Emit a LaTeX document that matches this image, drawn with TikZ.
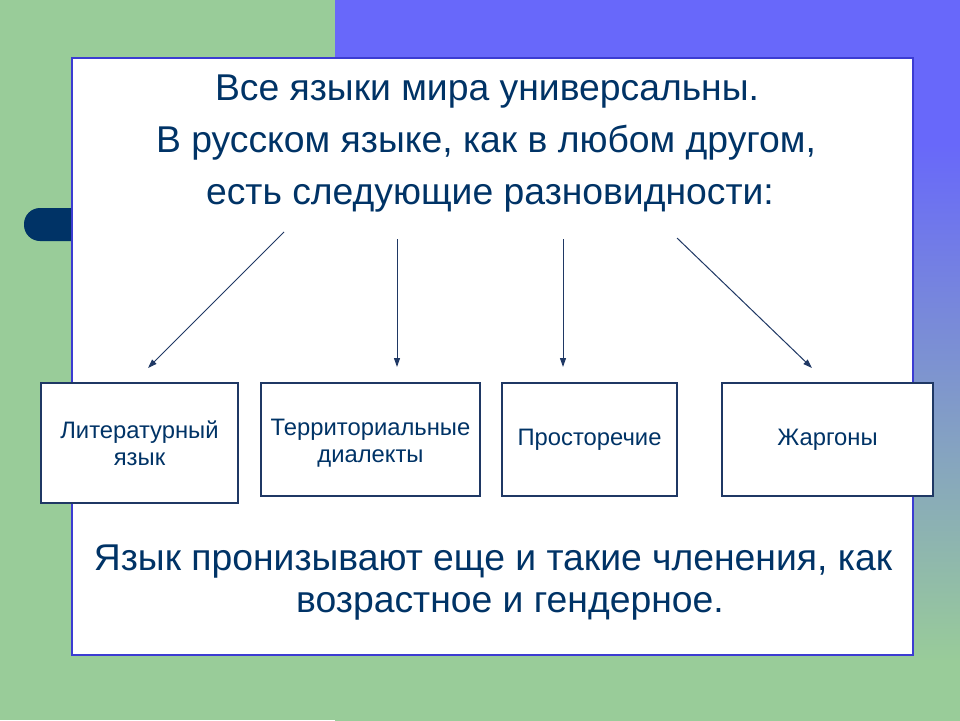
\documentclass[tikz,border=0pt]{standalone}
\usepackage{fontspec}
\setmainfont{Liberation Sans}
\usetikzlibrary{arrows.meta}
\definecolor{bggreen}{RGB}{153,204,153}
\definecolor{bgpurple}{RGB}{104,104,250}
\definecolor{navy}{RGB}{0,51,102}
\definecolor{frameblue}{RGB}{60,60,210}
\definecolor{boxline}{RGB}{31,56,100}
\pgfdeclareverticalshading{bgshade}{100bp}{color(0bp)=(bggreen); color(29bp)=(bggreen); color(65bp)=(bgpurple); color(100bp)=(bgpurple)}
\tikzset{
  bigtext/.style={text=navy, font=\fontsize{37.3}{44}\selectfont, anchor=base, inner sep=0},
  smalltext/.style={text=navy, font=\fontsize{23.8}{27}\selectfont, align=center, inner sep=0},
  varbox/.style={draw=boxline, line width=1.2, fill=white, anchor=north west, inner sep=0, outer sep=0},
  arr/.style={draw=boxline, line width=1, -{Triangle[length=9,width=6]}}
}
\begin{document}
\begin{tikzpicture}[x=1pt,y=-1pt]
\useasboundingbox (0,0) rectangle (960,720);
\fill[bggreen] (0,0) rectangle (960,720);
\shade[shading=bgshade] (335,0) rectangle (960,720);
\fill[navy, rounded corners=16] (24,208) rectangle (110,241);
\node (frame) [draw=frameblue, line width=1.5, fill=white, anchor=north west, inner sep=0, outer sep=0, minimum width=841, minimum height=597] at (72,58) {};
\node (t1) [bigtext] at (487,100) {Все языки мира универсальны.};
\node (t2) [bigtext] at (486,152) {В русском языке, как в любом другом,};
\node (t3) [bigtext] at (490,204) {есть следующие разновидности:};
\node (b1) [varbox, minimum width=197, minimum height=120] at (41,383) {};
\node (b2) [varbox, minimum width=219, minimum height=113] at (261,383) {};
\node (b3) [varbox, minimum width=175, minimum height=113] at (502,383) {};
\node (b4) [varbox, minimum width=211, minimum height=113] at (722,383) {};
\node (l1) [smalltext] at (b1.center) {Литературный\\язык};
\node (l2) [smalltext] at ([yshift=-4]b2.center) {Территориальные\\диалекты};
\node (l3) [smalltext] at (b3.center) {Просторечие};
\node (l4) [smalltext] at (b4.center) {Жаргоны};
\coordinate (s1) at (284,232); \coordinate (e1) at (148,368);
\coordinate (s2) at (397,239); \coordinate (e2) at (397,367);
\coordinate (s3) at (563,239); \coordinate (e3) at (563,367);
\coordinate (s4) at (677,238); \coordinate (e4) at (812,368);
\draw[arr] (s1) -- (e1);
\draw[arr] (s2) -- (e2);
\draw[arr] (s3) -- (e3);
\draw[arr] (s4) -- (e4);
\node (u1) [bigtext] at (493,570) {Язык пронизывают еще и такие членения, как};
\node (u2) [bigtext] at (510,612) {возрастное и гендерное.};
\end{tikzpicture}
\end{document}
